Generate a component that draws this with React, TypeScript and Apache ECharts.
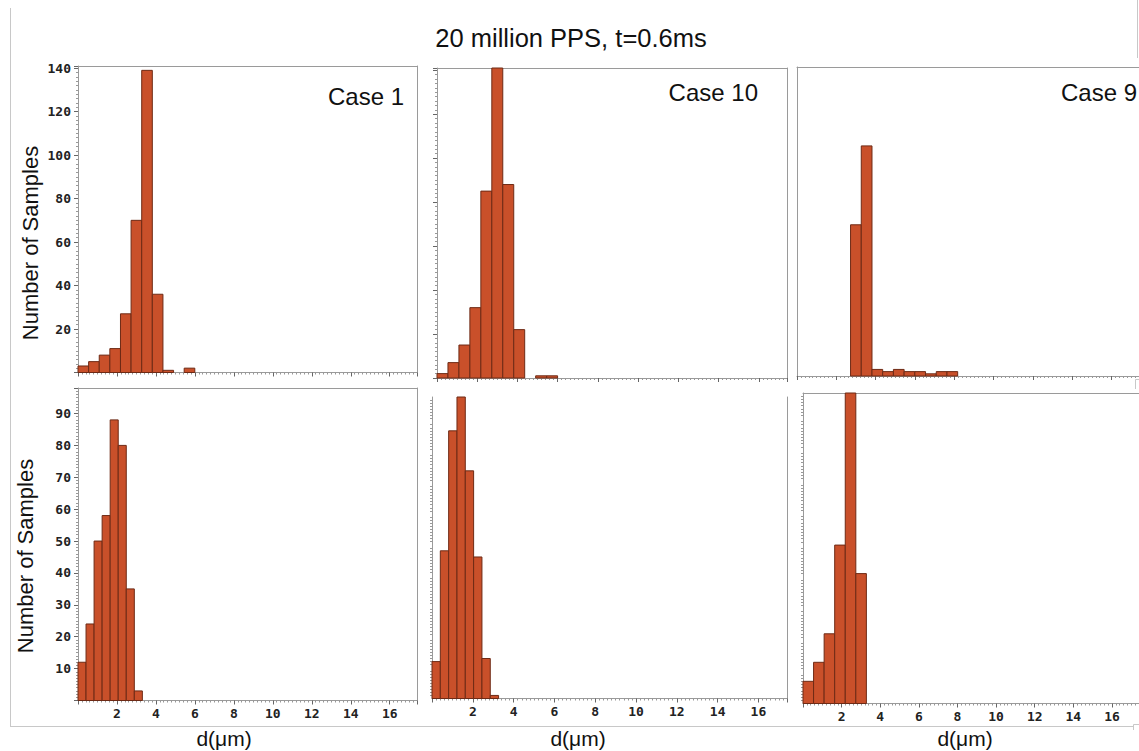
import React, { useEffect, useRef } from "react";
import * as echarts from "echarts";

// ---- data (counts per bin) ----
const titleText = "20 million PPS, t=0.6ms";
const caseLabels = ["Case 1", "Case 10", "Case 9"];
const xTickLabels = ["2", "4", "6", "8", "10", "12", "14", "16"];

const case1Top = [3, 5, 8, 11, 27, 70, 139, 36, 1, 0, 2];
const case10Top = [2, 7, 15, 32, 85, 141, 88, 22, 0, 1, 1];
const case9Top = [0, 0, 0, 0, 0, 69, 105, 3, 2, 3, 2, 2, 1, 2, 2];
const case1Bottom = [12, 24, 50, 58, 88, 80, 35, 3];
const case10Bottom = [12, 48, 87, 98, 74, 46, 13, 1];
const case9Bottom = [7, 13, 22, 50, 98, 41];

const binWidths = [0.545, 0.545, 0.545, 0.413, 0.408, 0.547];
const yMaxTop = 141;
const yMaxBottom = 98;

const FILL = "#C9502A";
const EDGE = "#6E2A15";
const SANS = "'Liberation Sans', Arial, sans-serif";
const MONO = "'DejaVu Sans Mono', monospace";

export default function App() {
  const ref = useRef<HTMLDivElement>(null);

  useEffect(() => {
    if (!ref.current) return;
    const chart = echarts.init(ref.current, undefined, { renderer: "svg" });

    const panels = [
      { counts: case1Top, grid: { left: 78, top: 66, width: 339, height: 306.5 }, yMax: yMaxTop, yInt: 20, yLabels: true, yTicks: true, xLabels: false, topBorder: true },
      { counts: case10Top, grid: { left: 437, top: 68, width: 350, height: 310 }, yMax: yMaxTop, yInt: 20, yLabels: false, yTicks: true, xLabels: false, topBorder: true },
      { counts: case9Top, grid: { left: 797, top: 67, width: 343, height: 309 }, yMax: yMaxTop, yInt: 20, yLabels: false, yTicks: false, xLabels: false, topBorder: true },
      { counts: case1Bottom, grid: { left: 78, top: 388, width: 339, height: 312.5 }, yMax: yMaxBottom, yInt: 10, yLabels: true, yTicks: true, xLabels: true, topBorder: true },
      { counts: case10Bottom, grid: { left: 432, top: 397, width: 355, height: 301.5 }, yMax: yMaxBottom, yInt: 10, yLabels: false, yTicks: false, xLabels: true, topBorder: false },
      { counts: case9Bottom, grid: { left: 803, top: 393, width: 337, height: 310.5 }, yMax: yMaxBottom, yInt: 10, yLabels: false, yTicks: false, xLabels: true, topBorder: true },
    ];

    const grids: any[] = [];
    const xAxes: any[] = [];
    const yAxes: any[] = [];
    const series: any[] = [];

    panels.forEach((p, i) => {
      grids.push({ ...p.grid, show: false, containLabel: false });
      xAxes.push({
        type: "value",
        gridIndex: i,
        min: 0,
        max: 17.4,
        interval: 2,
        axisLine: { show: true, onZero: false, lineStyle: { color: "#9a9a9a", width: 1 } },
        axisTick: { show: true, length: 4, lineStyle: { color: "#666" } },
        minorTick: { show: true, splitNumber: 10, length: 2, lineStyle: { color: "#999" } },
        splitLine: { show: false },
        axisLabel: {
          show: p.xLabels,
          showMinLabel: false,
          showMaxLabel: false,
          margin: 6,
          fontFamily: MONO,
          fontWeight: "bold",
          fontSize: 13,
          color: "#222",
          formatter: (v: number) => (xTickLabels.includes(String(v)) ? String(v) : ""),
        },
      });
      // top border as a secondary x axis line
      xAxes.push({
        type: "value",
        gridIndex: i,
        position: "top",
        min: 0,
        max: 17.4,
        axisLine: { show: p.topBorder, onZero: false, lineStyle: { color: "#9a9a9a", width: 1 } },
        axisTick: { show: false },
        axisLabel: { show: false },
        splitLine: { show: false },
      });
      yAxes.push({
        type: "value",
        gridIndex: i,
        min: 0,
        max: p.yMax,
        interval: p.yInt,
        axisLine: { show: true, onZero: false, lineStyle: { color: "#9a9a9a", width: 1 } },
        axisTick: { show: p.yTicks, length: 4, lineStyle: { color: "#666" } },
        minorTick: { show: p.yTicks || i >= 4, splitNumber: 10, length: 2, lineStyle: { color: "#999" } },
        splitLine: { show: false },
        axisLabel: {
          show: p.yLabels,
          showMinLabel: false,
          showMaxLabel: false,
          margin: 7,
          fontFamily: MONO,
          fontWeight: "bold",
          fontSize: 13,
          color: "#222",
          formatter: (v: number) => (v === 0 ? "" : String(v)),
        },
      });
      yAxes.push({
        type: "value",
        gridIndex: i,
        position: "right",
        min: 0,
        max: p.yMax,
        axisLine: { show: true, onZero: false, lineStyle: { color: "#9a9a9a", width: 1 } },
        axisTick: { show: false },
        axisLabel: { show: false },
        splitLine: { show: false },
      });
      const w = binWidths[i];
      const data = p.counts.map((c, k) => [k * w, (k + 1) * w, c]);
      series.push({
        type: "custom",
        xAxisIndex: i * 2,
        yAxisIndex: i * 2,
        encode: { x: [0, 1], y: 2 },
        data,
        renderItem: (params: any, api: any) => {
          const v = api.value(2);
          if (!v) return null;
          const p0 = api.coord([api.value(0), 0]);
          const p1 = api.coord([api.value(1), v]);
          return {
            type: "rect",
            shape: { x: p0[0], y: p1[1], width: p1[0] - p0[0], height: p0[1] - p1[1] },
            style: { fill: FILL, stroke: EDGE, lineWidth: 1 },
          };
        },
      });
    });

    const frame = "#c8c8c8";
    const graphic: any[] = [
      { type: "line", shape: { x1: 10.5, y1: 8, x2: 10.5, y2: 726 }, style: { stroke: frame, lineWidth: 1 } },
      { type: "line", shape: { x1: 10, y1: 726.5, x2: 1133, y2: 726.5 }, style: { stroke: frame, lineWidth: 1 } },
      { type: "line", shape: { x1: 1137.5, y1: 0, x2: 1137.5, y2: 58 }, style: { stroke: frame, lineWidth: 1 } },
      { type: "polyline", shape: { points: [[1139, 379.5], [1135.5, 379.5], [1135.5, 389]] }, style: { stroke: frame, fill: "none", lineWidth: 1 } },
      { type: "polyline", shape: { points: [[1139, 724.5], [1133.5, 724.5], [1133.5, 730]] }, style: { stroke: frame, fill: "none", lineWidth: 1 } },
      { type: "text", x: 571, y: 38, style: { text: titleText, font: `25.5px ${SANS}`, fill: "#111", textAlign: "center", textVerticalAlign: "middle" } },
      { type: "text", x: 404, y: 96, style: { text: caseLabels[0], font: `24px ${SANS}`, fill: "#111", textAlign: "right", textVerticalAlign: "middle" } },
      { type: "text", x: 758, y: 92, style: { text: caseLabels[1], font: `24px ${SANS}`, fill: "#111", textAlign: "right", textVerticalAlign: "middle" } },
      { type: "text", x: 1137, y: 92, style: { text: caseLabels[2], font: `24px ${SANS}`, fill: "#111", textAlign: "right", textVerticalAlign: "middle" } },
      { type: "text", x: 30, y: 243, rotation: Math.PI / 2, style: { text: "Number of Samples", font: `22px ${SANS}`, fill: "#111", textAlign: "center", textVerticalAlign: "middle" } },
      { type: "text", x: 25, y: 556, rotation: Math.PI / 2, style: { text: "Number of Samples", font: `22px ${SANS}`, fill: "#111", textAlign: "center", textVerticalAlign: "middle" } },
      { type: "text", x: 224, y: 738, style: { text: "d(μm)", font: `21px ${SANS}`, fill: "#111", textAlign: "center", textVerticalAlign: "middle" } },
      { type: "text", x: 578, y: 738, style: { text: "d(μm)", font: `21px ${SANS}`, fill: "#111", textAlign: "center", textVerticalAlign: "middle" } },
      { type: "text", x: 965, y: 738, style: { text: "d(μm)", font: `21px ${SANS}`, fill: "#111", textAlign: "center", textVerticalAlign: "middle" } },
    ];

    chart.setOption({
      animation: false,
      backgroundColor: "#ffffff",
      grid: grids,
      xAxis: xAxes,
      yAxis: yAxes,
      series,
      graphic,
    });

    return () => chart.dispose();
  }, []);

  return (
    <div
      ref={ref}
      style={{ position: "absolute", left: 0, top: 0, width: 1139, height: 751 }}
    />
  );
}
